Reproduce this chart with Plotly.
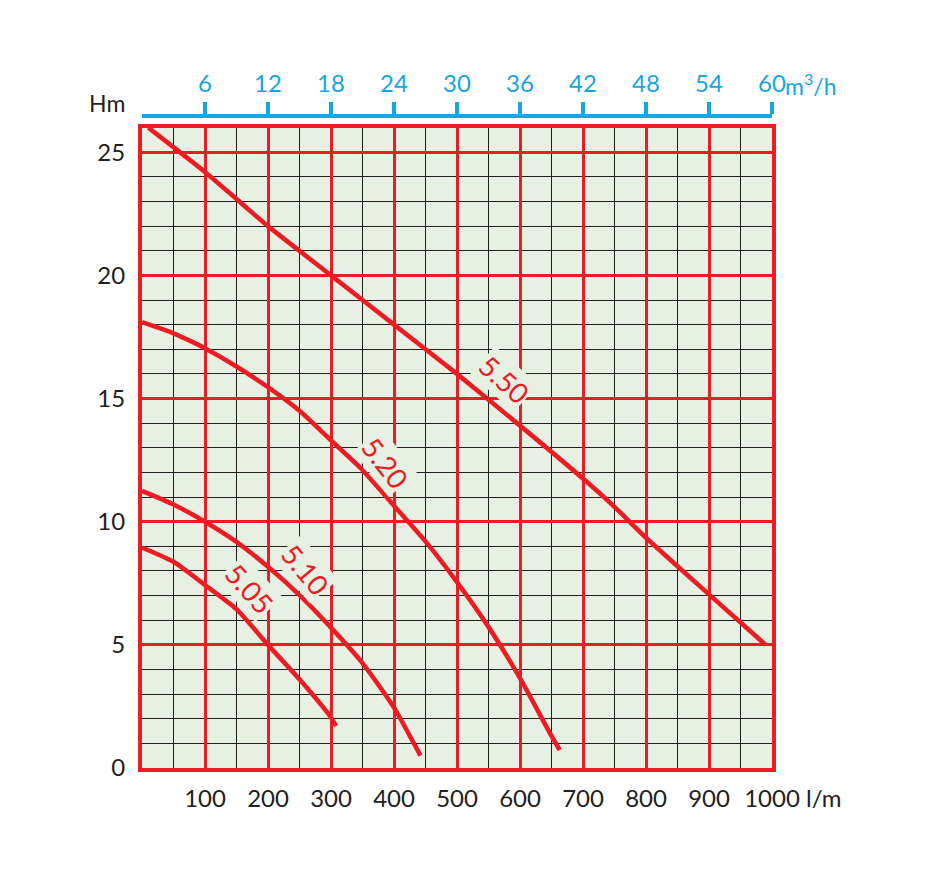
import plotly.graph_objects as go

# ---------------- data ----------------
flow_lpm_550 = [10, 100, 150, 200, 300, 400, 500, 600, 700, 750, 800, 900, 990]
head_550 = [26.0, 24.2, 23.1, 22.0, 20.0, 18.0, 16.0, 13.9, 11.75, 10.6, 9.35, 7.05, 5.0]

flow_lpm_520 = [0, 50, 80, 100, 150, 200, 250, 300, 346, 400, 450, 500, 550, 600, 650, 663]
head_520 = [18.1, 17.65, 17.3, 17.04, 16.3, 15.46, 14.5, 13.3, 12.2, 10.65, 9.2, 7.55, 5.73, 3.65, 1.3, 0.73]

flow_lpm_510 = [0, 50, 100, 150, 200, 250, 300, 350, 400, 442]
head_510 = [11.25, 10.7, 10.0, 9.18, 8.17, 7.02, 5.7, 4.26, 2.45, 0.5]

flow_lpm_505 = [0, 50, 100, 150, 200, 250, 300, 308]
head_505 = [8.95, 8.37, 7.43, 6.45, 5.0, 3.6, 2.05, 1.7]

model_names = ["5.50", "5.20", "5.10", "5.05"]
label_x = [575, 387, 259, 170]
label_y = [15.8, 12.4, 8.08, 7.3]
label_angle = [42, 52, 50, 48]

bottom_ticks = [100, 200, 300, 400, 500, 600, 700, 800, 900, 1000]
left_ticks = [0, 5, 10, 15, 20, 25]
top_ticks = [6, 12, 18, 24, 30, 36, 42, 48, 54, 60]

# ---------------- style ----------------
RED = "#ed1c24"
CYAN = "#16a6e2"
BG = "#e7f1e3"
INK = "#231f20"
FONT = "Lato"

W, H = 940, 892
ML, MR, MT, MB = 142, 168, 116, 124
plot_top_px = 127.6
paper_h = H - MT - MB
ydom_top = (H - MB - plot_top_px) / paper_h

fig = go.Figure()

for xs, ys in [(flow_lpm_550, head_550), (flow_lpm_520, head_520),
               (flow_lpm_510, head_510), (flow_lpm_505, head_505)]:
    fig.add_trace(go.Scatter(
        x=xs, y=ys, mode="lines",
        line=dict(color=RED, width=4.6, shape="spline", smoothing=0.6),
        hoverinfo="skip", showlegend=False, cliponaxis=True,
    ))

# invisible trace for the top (m3/h) axis
fig.add_trace(go.Scatter(x=[0, 60], y=[None, None], xaxis="x2", yaxis="y",
                         mode="lines", showlegend=False, hoverinfo="skip"))

for name, lx, ly, ang in zip(model_names, label_x, label_y, label_angle):
    fig.add_annotation(
        x=lx, y=ly, xref="x", yref="y", text=name, showarrow=False,
        textangle=ang, bgcolor=BG, borderpad=1,
        font=dict(family=FONT, size=28, color=RED),
    )

fig.add_annotation(x=0, y=1, xref="paper", yref="paper", text="Hm",
                   showarrow=False, xanchor="right", yanchor="middle",
                   xshift=-15, yshift=13,
                   font=dict(family=FONT, size=23, color=INK))
fig.add_annotation(x=1, y=0, xref="paper", yref="paper", text="l/m",
                   showarrow=False, xanchor="left", yanchor="middle",
                   xshift=32, yshift=-29,
                   font=dict(family=FONT, size=24, color=INK))
fig.add_annotation(x=1, y=1, xref="paper", yref="paper", text="m<sup>3</sup>/h",
                   showarrow=False, xanchor="left", yanchor="middle",
                   xshift=11, yshift=32,
                   font=dict(family=FONT, size=23, color=CYAN))

fig.update_layout(
    width=W, height=H,
    margin=dict(l=ML, r=MR, t=MT, b=MB, pad=0),
    paper_bgcolor="white", plot_bgcolor=BG,
    font=dict(family=FONT, color=INK),
    xaxis=dict(
        range=[0, 1000], domain=[0, 1],
        tickvals=bottom_ticks, ticktext=[str(v) for v in bottom_ticks],
        ticks="outside", ticklen=6, tickcolor="rgba(0,0,0,0)",
        tickfont=dict(family=FONT, size=24, color=INK),
        showgrid=True, gridcolor=RED, gridwidth=3,
        minor=dict(dtick=50, tick0=0, showgrid=True, gridcolor=INK, gridwidth=1, ticks=""),
        showline=True, linecolor=RED, linewidth=4, mirror=True,
        zeroline=False, fixedrange=True,
    ),
    yaxis=dict(
        range=[0, 26], domain=[0, ydom_top],
        tickvals=left_ticks, ticktext=[str(v) for v in left_ticks],
        ticks="outside", ticklen=8, tickcolor="rgba(0,0,0,0)",
        tickfont=dict(family=FONT, size=24, color=INK),
        showgrid=True, gridcolor=RED, gridwidth=3,
        minor=dict(dtick=1, tick0=0, showgrid=True, gridcolor=INK, gridwidth=1, ticks=""),
        showline=True, linecolor=RED, linewidth=4, mirror=True,
        zeroline=False, fixedrange=True,
    ),
    xaxis2=dict(
        range=[0, 60], overlaying="x", side="top", anchor="free", position=1,
        tickvals=top_ticks, ticktext=[str(v) for v in top_ticks],
        ticks="outside", ticklen=12, tickwidth=4, tickcolor=CYAN,
        tickfont=dict(family=FONT, size=24, color=CYAN),
        showline=True, linecolor=CYAN, linewidth=4,
        showgrid=False, zeroline=False, fixedrange=True,
    ),
)

fig.write_html("out.html")
